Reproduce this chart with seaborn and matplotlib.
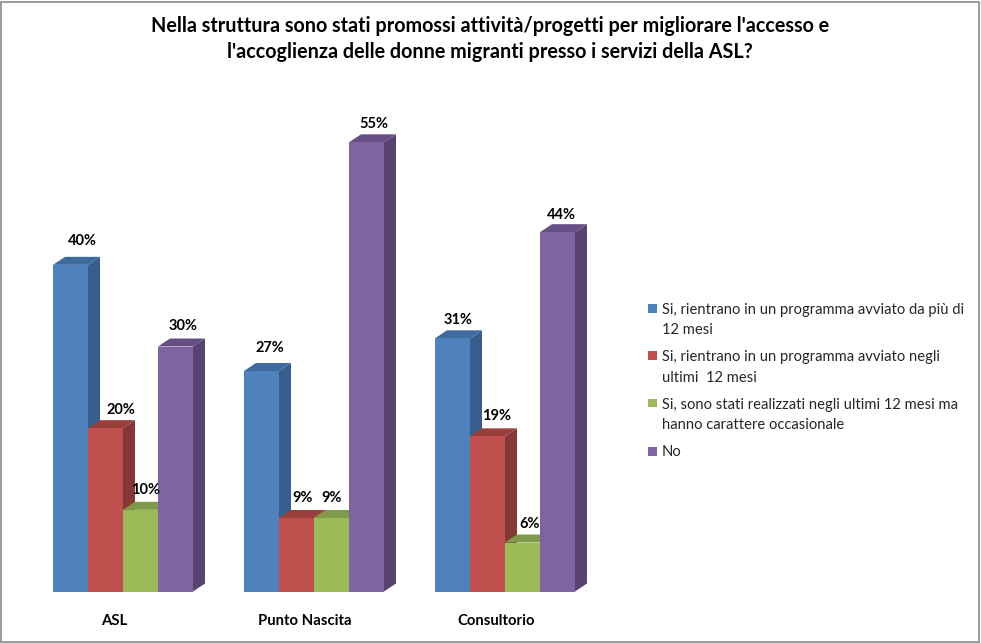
import matplotlib
matplotlib.use("Agg")
import matplotlib.pyplot as plt
import pandas as pd
import seaborn as sns
from matplotlib.legend_handler import HandlerPatch
from matplotlib.patches import Polygon, Rectangle
from matplotlib.transforms import ScaledTranslation

categories = ["ASL", "Punto Nascita", "Consultorio"]
series_names = [
    "Si, rientrano in un programma avviato da più di\n12 mesi",
    "Si, rientrano in un programma avviato negli\nultimi  12 mesi",
    "Si, sono stati realizzati negli ultimi 12 mesi ma\nhanno carattere occasionale",
    "No",
]
s1 = [40, 27, 31]
s2 = [20, 9, 19]
s3 = [10, 9, 6]
s4 = [30, 55, 44]
title = ("Nella struttura sono stati promossi attività/progetti per migliorare l'accesso e\n"
         "l'accoglienza delle donne migranti presso i servizi della ASL?")
front = ["#4F81BD", "#C0504D", "#9BBB59", "#8064A2"]
side = ["#365F8E", "#853735", "#6F8A3E", "#574470"]
top = ["#3F6A9E", "#9A3F3C", "#7F9A4B", "#664F84"]
# hand-placed data label offsets from each bar's front top centre, in pixels
label_dx = [[12, 8, 6], [15, 6, 9], [5, 0, 7], [8, 7, 4]]
label_dy = [[24, 23, 18], [18, 20, 20], [20, 20, 18], [20, 18, 17]]

sns.set_theme(style="white")
plt.rcParams["font.family"] = ["Lato", "DejaVu Sans"]

W, H = 981, 643
fig = plt.figure(figsize=(W / 100, H / 100), dpi=100, facecolor="white")
L, R, B, T = 27.5, 600.5, 591.5, 101.5
ax = fig.add_axes([L / W, 1 - B / H, (R - L) / W, (B - T) / H])

rows = []
for name, vals in zip(series_names, [s1, s2, s3, s4]):
    for c, v in zip(categories, vals):
        rows.append({"cat": c, "series": name, "value": v})
df = pd.DataFrame(rows)

sns.barplot(data=df, x="cat", y="value", hue="series", order=categories,
            hue_order=series_names, palette=front, width=0.733, gap=0,
            saturation=1, legend=False, ax=ax, linewidth=0)
ax.set_xlim(-0.5, 2.5)
ax.set_ylim(0, 60)
sns.despine(ax=ax, left=True, bottom=True)
ax.set_yticks([])
ax.set_xlabel("")
ax.set_ylabel("")
ax.tick_params(axis="x", length=0, pad=16)

# depth of the fake 3D bars, in data units
dx = 12 / ((R - L) / 3)
dy = 8 / ((B - T) / 60)
ncat = len(categories)
for i, p in enumerate(list(ax.patches)):
    h = i // ncat
    k = i % ncat
    z = 2 + h
    x0, w, v = p.get_x(), p.get_width(), p.get_height()
    p.set_zorder(z + 0.3)
    ax.add_patch(Polygon([(x0 + w, 0), (x0 + w + dx, dy), (x0 + w + dx, v + dy), (x0 + w, v)],
                         closed=True, fc=side[h], ec="none", zorder=z))
    ax.add_patch(Polygon([(x0, v), (x0 + dx, v + dy), (x0 + w + dx, v + dy), (x0 + w, v)],
                         closed=True, fc=top[h], ec="none", zorder=z + 0.1))
    ax.annotate(f"{v:.0f}%", (x0 + w / 2, v), xytext=(label_dx[h][k], label_dy[h][k]),
                textcoords="offset pixels", ha="center", va="center", fontsize=10.5,
                fontweight="bold", color="black", zorder=20, annotation_clip=False)

shift = ScaledTranslation(-9 / 100, 0, fig.dpi_scale_trans)
for lab in ax.get_xticklabels():
    lab.set_fontsize(10.7)
    lab.set_fontweight("bold")
    lab.set_color("black")
    lab.set_transform(lab.get_transform() + shift)

fig.suptitle(title, x=490 / W, y=1 - 39 / H, ha="center", va="center",
             fontsize=14.2, fontweight="bold", color="black", linespacing=1.36)


def square_on_first_line(raise_px):
    def make(legend, orig_handle, xdescent, ydescent, width, height, fontsize):
        return Rectangle((-xdescent, -ydescent + raise_px), width, width)
    return HandlerPatch(patch_func=make)


handles = [Rectangle((0, 0), 1, 1, fc=c, ec="none") for c in front]
handler_map = {h: square_on_first_line(9 if "\n" in n else 0)
               for h, n in zip(handles, series_names)}
leg = fig.legend(handles, series_names, loc="upper left", bbox_to_anchor=(648 / W, 1 - 303 / H),
                 frameon=False, fontsize=10.6, handlelength=0.6, handleheight=0.6,
                 handletextpad=0.35, labelspacing=0.9, borderpad=0, borderaxespad=0,
                 labelcolor="#262626", handler_map=handler_map)
for t in leg.get_texts():
    t.set_linespacing(1.56)

fig.add_artist(Rectangle((1 / W, 1 / H), (W - 3) / W, (H - 2.5) / H, transform=fig.transFigure,
                         fc="none", ec="#8a8a8a", lw=1.2))
fig.savefig("out.png", dpi=100)
